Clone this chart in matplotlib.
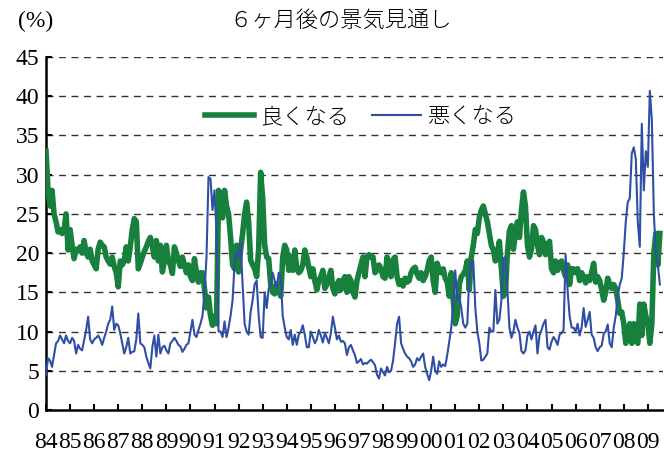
import numpy as np
import matplotlib

matplotlib.use("Agg")
import matplotlib.pyplot as plt

# monthly survey shares (%), Jan 1984 .. Jul 2009, one row per year
good = [
    33, 28, 26, 28, 25, 24, 22.7, 23, 22.5, 23, 25, 20.4,            # 1984
    23, 21, 19.3, 20.5, 20.3, 20.8, 20, 21.6, 20, 19.5, 20.5, 19,   # 1985
    18.5, 18, 20.5, 21.4, 21, 20.8, 19.5, 19, 18.6, 19.5, 18.3, 17.5,
    15.7, 19, 18.5, 19, 20.8, 19, 20.8, 23, 24.4, 24, 18, 18.7,
    19.5, 20.2, 20.8, 21.5, 22, 21, 19.5, 21.6, 19, 21, 17.6, 19,
    21, 19, 18.5, 17.4, 20.8, 20, 19, 18.3, 19.5, 18.5, 17.5, 18.5,
    17, 16.5, 19.3, 17.5, 16.3, 17.5, 17.5, 15.5, 13, 14.4, 12, 10.8,
    12, 11, 28, 27.5, 24.5, 28, 26, 25, 22, 18.5, 18, 21,            # 1991
    17.6, 20.4, 22.5, 25, 26.5, 24, 19.1, 18.5, 18, 17, 20.5, 30.3,
    27, 21, 19.5, 19.3, 16, 15, 14.8, 16.1, 15.5, 14.5, 19.5, 21,
    20.4, 17.8, 19.5, 17.8, 20.4, 18, 17.5, 17.8, 18.5, 20.4, 19.5, 18.2,
    17, 18, 16.5, 15.3, 16.5, 17, 17.8, 15.5, 16, 17, 17.8, 15.5,
    14.8, 16, 16.5, 15.3, 16.5, 17, 15, 17, 16.5, 15, 14.4, 16.5,
    17.5, 18.5, 19.5, 17, 19.5, 19.8, 19.5, 19.5, 17.5, 17.8, 18.5, 18,
    17, 16.8, 19.5, 18, 17, 19.2, 19.5, 17, 16, 16.5, 15.8, 16.8,
    16.3, 16.5, 17.5, 18, 18.2, 17.3, 16.8, 17.5, 16.5, 17, 17.8, 19,
    19.5, 16.5, 15, 18.7, 17.8, 17.5, 18, 16.8, 16.3, 14.5, 17.5, 14,
    11, 12, 16, 17, 17.3, 17.8, 19, 15.3, 19.5, 21, 23, 22.5,        # 2001
    24.5, 25.5, 26, 25, 24, 22.5, 21, 20.4, 19, 20, 21.5, 18,
    14.5, 15, 20, 22.8, 23.5, 20.5, 22.5, 24, 22, 25.5, 27.8, 26,
    21, 19.5, 20.5, 23.5, 23, 21, 19.8, 22, 21.4, 19.8, 21, 21.5,
    18, 17.5, 19, 17.8, 18.7, 19, 17.8, 17, 18.5, 16, 18, 18,
    17.5, 18, 16.5, 17.5, 17, 16.2, 17, 16.5, 17.5, 18.7, 16.3, 17,
    16.5, 15.3, 14, 15, 16.8, 16, 15.5, 16, 15.5, 14, 12.3, 12.5,
    11, 8.5, 10, 11, 8.5, 11, 9, 8.5, 13.5, 9.5, 13.5, 12,
    11, 8.5, 11, 20, 22.5, 18.5, 22.5,                               # 2009
]

bad = [
    4.5, 6.6, 6.3, 5.5, 7, 8.5, 8.8, 9.5, 9, 8.5, 9.5, 8.8,         # 1984
    8.5, 9.2, 8.8, 7.2, 8.3, 7.8, 7.6, 8.9, 10.2, 11.9, 9, 8.5,
    9, 9.2, 9.5, 9, 8.3, 9.2, 10, 11, 11.5, 13.2, 10.2, 11,
    10.8, 9.8, 8.5, 7.2, 8, 9.2, 7.2, 7.4, 7.5, 9, 12.3, 8.5,
    8.3, 8, 6.8, 6, 5.3, 8, 9.5, 6.8, 9.6, 7.2, 8, 8.2,
    7.6, 7.2, 8.5, 8.8, 9.2, 8.8, 8.3, 8.1, 7.4, 7.8, 8.3, 8.5,
    10, 11.5, 9.6, 9.3, 10.2, 11, 12, 15, 19.5, 29.7, 29.5, 25.5,
    28, 22.5, 10, 10, 9.3, 11.3, 9.3, 10.5, 12, 14, 18.7, 20,        # 1991
    19.5, 21.4, 16, 11, 10, 9.6, 12.5, 14, 16, 16.5, 12, 9.3,
    9.2, 15, 13, 15.5, 16, 17.5, 16.5, 15.5, 17.5, 17, 12, 10.5,
    9.3, 9, 10.2, 8.3, 9.6, 8.3, 9.6, 10, 10.8, 9.6, 8, 8,
    10, 9.3, 8.5, 9, 10.2, 9.5, 8.6, 9.8, 9.2, 8.5, 9.8, 11.9,
    10.5, 9, 9.5, 8.7, 8.8, 8.5, 7, 8, 8.3, 7.6, 7, 6,
    6.2, 6.5, 5.8, 6, 5.9, 6.2, 6.4, 6.1, 5.7, 4.5, 4, 5.3,
    4.8, 4.4, 5.5, 4.8, 5, 6.3, 8.5, 11, 11.9, 8.5, 7.8, 7.2,
    6.8, 6.6, 6.2, 5.5, 5.8, 6.6, 6.3, 6.8, 7.2, 5.5, 4.6, 3.8,
    5, 6.8, 5, 4.6, 6.2, 5.5, 5.8, 5.6, 7, 8.7, 10.5, 13.5,
    17.8, 14, 14.5, 13, 11, 10.5, 11, 17, 19, 19, 13, 10,            # 2001
    8.5, 6.3, 6.4, 6.8, 7.2, 10.5, 10, 10, 15.3, 11, 11.5, 14,
    19.3, 19.5, 15.3, 10.5, 9.2, 10, 11.5, 10.5, 9.8, 7.5, 7.2, 7.6,
    9.5, 10, 9, 10, 10.8, 7.2, 9.5, 10.2, 11, 11.5, 8, 7.7,
    8.7, 9.3, 8.9, 8.3, 9.6, 9.8, 10.2, 19.8, 15.3, 12, 10.5, 10.5,
    10, 11, 9.5, 10.5, 13, 10.6, 11.5, 12.5, 9.6, 9.2, 8, 7.5,
    8, 8.2, 9.7, 10, 10.9, 8.5, 8, 10.5, 12, 14.5, 16, 16.8,
    20, 24, 26.5, 27, 32.7, 33.5, 32, 24, 20.8, 36.5, 28, 33,
    31, 40.7, 37, 25, 20, 18.5, 16,                                  # 2009
]

year_labels = ["84", "85", "86", "87", "88", "89", "90", "91", "92", "93",
               "94", "95", "96", "97", "98", "99", "00", "01", "02", "03",
               "04", "05", "06", "07", "08", "09"]

GREEN = "#16803c"
BLUE = "#2f4fa5"
JP = ["Noto Sans CJK JP", "DejaVu Sans"]
NUM = "Liberation Serif"

fig = plt.figure(figsize=(6.64, 4.53), dpi=100)
ax = fig.add_axes([0.0693, 0.095, 0.929, 0.779])

months = np.arange(len(good))
ax.plot(months, good, color=GREEN, lw=4.0, label="良くなる", zorder=3)
ax.plot(months, bad, color=BLUE, lw=1.5, label="悪くなる", zorder=4)

ax.set_ylim(0, 45)
ax.set_xlim(0, 307.5)
ax.set_yticks(range(0, 50, 5))
# labels sit slightly left of the year ticks, packed edge to edge
ax.set_xticks(np.arange(len(year_labels)) * 12)
ax.set_xticklabels(year_labels)

for v in range(5, 50, 5):
    ax.axhline(v, color="#333333", lw=1.0, dashes=(5, 4), zorder=1)

for side in ("top", "right"):
    ax.spines[side].set_visible(False)
for side in ("left", "bottom"):
    ax.spines[side].set_linewidth(1.8)

ax.tick_params(axis="both", direction="in", length=4, width=1.5,
               labelsize=17, pad=5)
ax.tick_params(axis="x", pad=16)
for lab in ax.get_xticklabels() + ax.get_yticklabels():
    lab.set_fontfamily(NUM)

fig.text(36 / 664, 1 - 21 / 453, "(%)", family=NUM, fontsize=17,
         ha="center", va="center")
fig.text(341 / 664, 1 - 21 / 453, "６ヶ月後の景気見通し", family=JP,
         fontsize=16, fontweight="light", ha="center", va="center")

leg = ax.legend(loc="center", bbox_to_anchor=(0.51, 0.83), ncol=2,
                frameon=False, handlelength=2.2, handletextpad=0.3,
                columnspacing=1.0,
                prop={"family": JP, "size": 16, "weight": "light"})

fig.savefig("out.png", dpi=100)
